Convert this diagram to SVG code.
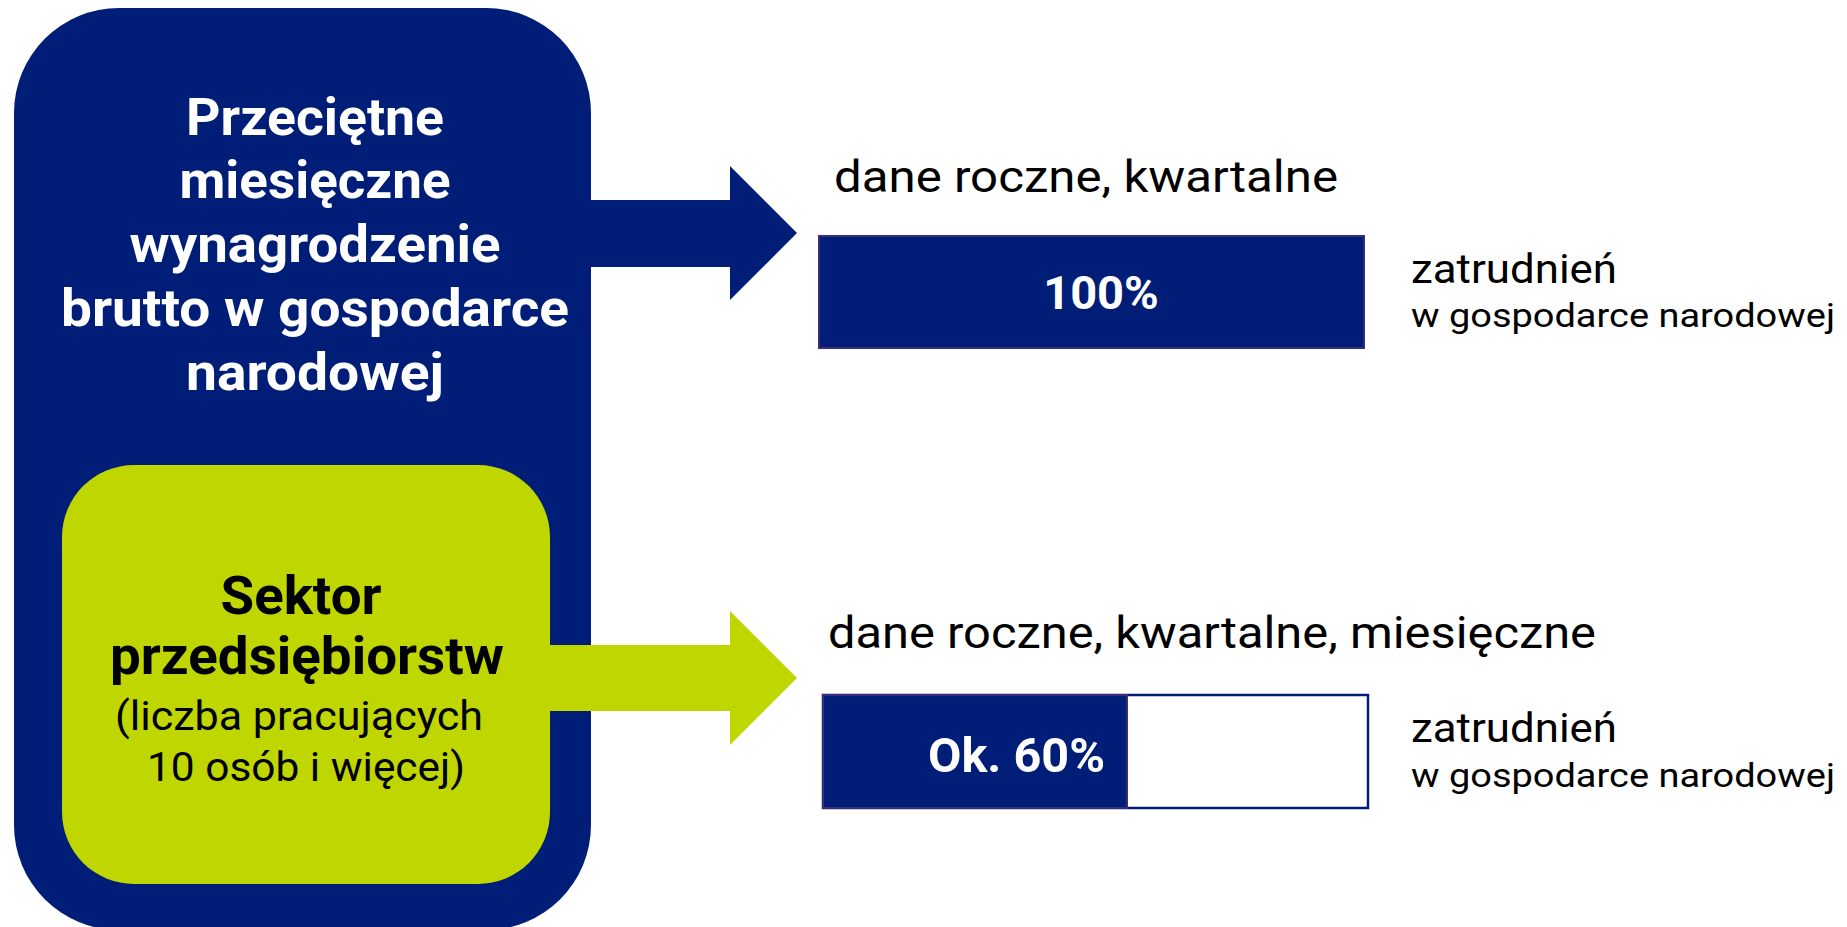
<svg xmlns="http://www.w3.org/2000/svg" width="1847" height="927" viewBox="0 0 1847 927">
<style>
.navy{fill:#001e77}
.green{fill:#bfd600}
.hw{font-family:Roboto,"Noto Sans",sans-serif;font-weight:bold;fill:#ffffff;text-anchor:middle}
.hb{font-family:Roboto,"Noto Sans",sans-serif;font-weight:bold;fill:#000000;text-anchor:middle}
.rb{font-family:Roboto,"Noto Sans",sans-serif;fill:#000000}
</style>
<rect width="1847" height="927" fill="#ffffff"/>
<g id="node-wynagrodzenie">
<rect class="navy" x="14" y="8" width="577" height="922" rx="105" ry="105"/>
<text class="hw" font-size="52" x="315" y="135" textLength="258" lengthAdjust="spacingAndGlyphs">Przeciętne</text>
<text class="hw" font-size="52" x="315" y="198" textLength="271" lengthAdjust="spacingAndGlyphs">miesięczne</text>
<text class="hw" font-size="52" x="315" y="262" textLength="371" lengthAdjust="spacingAndGlyphs">wynagrodzenie</text>
<text class="hw" font-size="52" x="315" y="326" textLength="508" lengthAdjust="spacingAndGlyphs">brutto w gospodarce</text>
<text class="hw" font-size="52" x="315" y="390" textLength="258" lengthAdjust="spacingAndGlyphs">narodowej</text>
</g>
<g id="node-sektor">
<rect class="green" x="62" y="465" width="488" height="419" rx="72" ry="72"/>
<text class="hb" font-size="53" x="301" y="614" textLength="161" lengthAdjust="spacingAndGlyphs">Sektor</text>
<text class="hb" font-size="51" x="307" y="674" textLength="394" lengthAdjust="spacingAndGlyphs">przedsiębiorstw</text>
<text class="rb" font-size="40" x="299" y="730" text-anchor="middle" textLength="368" lengthAdjust="spacingAndGlyphs">(liczba pracujących</text>
<text class="rb" font-size="40" x="306" y="781" text-anchor="middle" textLength="318" lengthAdjust="spacingAndGlyphs">10 osób i więcej)</text>
</g>
<g id="connectors">
<polygon class="navy" points="585,200 730,200 730,166 797,233 730,300 730,267 585,267"/>
<polygon class="green" points="545,645 730,645 730,611 797,678 730,745 730,711 545,711"/>
</g>
<g id="node-bar100">
<text class="rb" font-size="44" x="834" y="192" textLength="504" lengthAdjust="spacingAndGlyphs">dane roczne, kwartalne</text>
<rect class="navy" x="819" y="236" width="545" height="112" stroke="#3a2a7a" stroke-width="2"/>
<text class="hw" font-size="47" x="1101" y="309">100%</text>
<text class="rb" font-size="40" x="1411" y="283" textLength="206" lengthAdjust="spacingAndGlyphs">zatrudnień</text>
<text class="rb" font-size="33" x="1411" y="327" textLength="424" lengthAdjust="spacingAndGlyphs">w gospodarce narodowej</text>
</g>
<g id="node-bar60">
<text class="rb" font-size="44" x="828" y="648" textLength="768" lengthAdjust="spacingAndGlyphs">dane roczne, kwartalne, miesięczne</text>
<rect x="823" y="695" width="545" height="113" fill="#ffffff" stroke="#001e77" stroke-width="2.5"/>
<rect class="navy" x="823" y="695" width="304" height="113" stroke="#3a2a7a" stroke-width="2"/>
<text class="hw" font-size="48" x="1105" y="772" style="text-anchor:end" textLength="177" lengthAdjust="spacingAndGlyphs">Ok. 60%</text>
<text class="rb" font-size="40" x="1411" y="742" textLength="206" lengthAdjust="spacingAndGlyphs">zatrudnień</text>
<text class="rb" font-size="33" x="1411" y="787" textLength="424" lengthAdjust="spacingAndGlyphs">w gospodarce narodowej</text>
</g>
</svg>
